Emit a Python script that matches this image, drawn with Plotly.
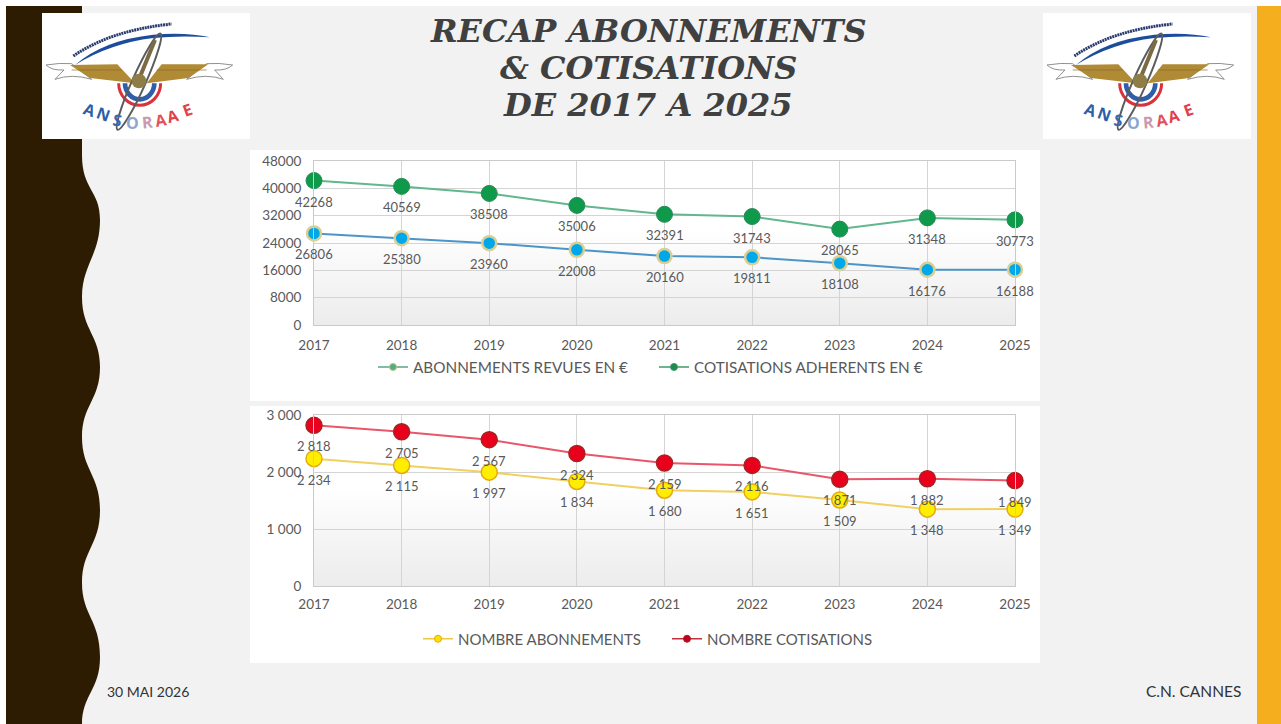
import base64
import plotly.graph_objects as go

# ---------- data ----------
YEARS = ["2017", "2018", "2019", "2020", "2021", "2022", "2023", "2024", "2025"]
COTISATIONS_EUR = [42268, 40569, 38508, 35006, 32391, 31743, 28065, 31348, 30773]
ABONNEMENTS_EUR = [26806, 25380, 23960, 22008, 20160, 19811, 18108, 16176, 16188]
NOMBRE_COTISATIONS = [2818, 2705, 2567, 2324, 2159, 2116, 1871, 1882, 1849]
NOMBRE_ABONNEMENTS = [2234, 2115, 1997, 1834, 1680, 1651, 1509, 1348, 1349]
TITLE_LINES = ["RECAP ABONNEMENTS", "& COTISATIONS", "DE 2017 A 2025"]
LOGO_LETTERS = list("ANSORAAE")

W, H = 1281, 724
FONT = "Lato"
TXT = "#595959"


def px(x):
    return x / W


def py(y):
    return 1 - y / H


# ---------- decoration as one svg backdrop ----------
def logo(tx):
    return f'''<g transform="translate({tx},20) scale(0.3333)" filter="url(#soft)">
<path d="M100,108 Q215,30 395,12" fill="none" stroke="#2b3a70" stroke-width="9" stroke-dasharray="6 2"/>
<path d="M105,135 Q190,60 340,44 Q440,36 510,52 Q420,46 340,54 Q210,70 105,135Z" fill="#1f4e9c"/>
<path d="M18,135 Q60,128 95,131 L155,178 Q95,160 45,178 L72,150 Q35,152 18,135Z" fill="#fff" stroke="#8f8f8f" stroke-width="3"/>
<path d="M578,135 Q536,128 500,131 L440,178 Q500,160 550,178 L524,150 Q560,152 578,135Z" fill="#fff" stroke="#8f8f8f" stroke-width="3"/>
<path d="M236,190 A63,66 0 0 0 362,190" fill="none" stroke="#d9333a" stroke-width="9"/>
<path d="M255,190 A44,48 0 0 0 343,190" fill="none" stroke="#2f5ea8" stroke-width="14"/>
<path d="M90,135 L232,133 L285,190 L150,174Z M505,133 L365,133 L320,190 L445,174Z" fill="#b08a35"/>
<path d="M95,150 L245,150 M500,150 L350,150" stroke="#8a6a25" stroke-width="2"/>
<ellipse cx="297" cy="185" rx="158" ry="20" transform="rotate(-66 297 185)" fill="none" stroke="#5c5c5c" stroke-width="6"/>
<path d="M345,60 L300,170" stroke="#7a6a45" stroke-width="12"/>
<circle cx="297" cy="183" r="22" fill="#8e7d45"/>
</g>'''


wave = ("M6,6 L82,6 L82,155 C82,190 100,190 100,220 C100,255 82,265 82,297 "
        "C82,330 100,335 100,367 C100,400 82,405 82,437 C82,470 100,475 100,510 "
        "C100,545 82,550 82,583 C82,615 100,620 100,657 C100,690 82,695 82,724 L6,724Z")

svg = f'''<svg xmlns="http://www.w3.org/2000/svg" width="{W}" height="{H}" viewBox="0 0 {W} {H}">
<defs>
<filter id="soft"><feGaussianBlur stdDeviation="2"/></filter>
<linearGradient id="g" x1="0" y1="0" x2="0" y2="1">
<stop offset="0" stop-color="#ffffff"/><stop offset=".42" stop-color="#ffffff"/><stop offset="1" stop-color="#ececec"/>
</linearGradient>
</defs>
<rect width="{W}" height="{H}" fill="#ffffff"/>
<rect x="6" y="6" width="{W}" height="{H}" fill="#f2f2f2"/>
<path d="{wave}" fill="#2e1c02"/>
<rect x="1257" y="6" width="24" height="{H}" fill="#f5ae1e"/>
<rect x="42" y="13" width="208" height="126" fill="#ffffff"/>
<rect x="1043" y="13" width="208" height="126" fill="#ffffff"/>
{logo(40)}
{logo(1041)}
<rect x="250" y="150" width="790" height="251" fill="#ffffff"/>
<rect x="250" y="406" width="790" height="257" fill="#ffffff"/>
<rect x="314" y="161" width="701" height="164" fill="url(#g)"/>
<rect x="314" y="415" width="701" height="171" fill="url(#g)"/>
</svg>'''
bg_uri = "data:image/svg+xml;base64," + base64.b64encode(svg.encode()).decode()

# ---------- figure ----------
fig = go.Figure()


def series(name, values, line, fill, edge, edge_w, size, xa, ya):
    fig.add_trace(go.Scatter(
        x=YEARS, y=values, name=name, mode="lines+markers", showlegend=False,
        xaxis=xa, yaxis=ya, cliponaxis=False,
        line=dict(color=line, width=2),
        marker=dict(color=fill, size=size, line=dict(color=edge, width=edge_w)),
    ))


def key(name, line, fill, edge, legend):
    fig.add_trace(go.Scatter(
        x=[None], y=[None], name=name, mode="lines+markers", legend=legend,
        line=dict(color=line, width=1.5),
        marker=dict(color=fill, size=7, line=dict(color=edge, width=1)),
    ))


series("COTISATIONS ADHERENTS EN €", COTISATIONS_EUR, "#62b78c", "#0e9a4a", "#2c8a58", 1, 16, "x", "y")
series("ABONNEMENTS REVUES EN €", ABONNEMENTS_EUR, "#4d94c8", "#00a8ea", "#d9cf95", 2.5, 14, "x", "y")
series("NOMBRE COTISATIONS", NOMBRE_COTISATIONS, "#e9566a", "#e8001c", "#a82222", 1.5, 16, "x2", "y2")
series("NOMBRE ABONNEMENTS", NOMBRE_ABONNEMENTS, "#f0d060", "#ffee00", "#e3ab12", 1.5, 16, "x2", "y2")

key("ABONNEMENTS REVUES EN €", "#5aa688", "#4fae7e", "#c8bf80", "legend")
key("COTISATIONS ADHERENTS EN €", "#3f9a6c", "#1f8a50", "#3f9a6c", "legend")
key("NOMBRE ABONNEMENTS", "#eec64a", "#ffe000", "#e3ab12", "legend2")
key("NOMBRE COTISATIONS", "#c0303c", "#c00020", "#a82222", "legend2")

annotations = []


def data_labels(values, xr, yr, spaced):
    for i, v in enumerate(values):
        t = f"{v:,}".replace(",", " ") if spaced else str(v)
        annotations.append(dict(x=i, y=v, xref=xr, yref=yr, text=t, showarrow=False,
                                yshift=-21, font=dict(family=FONT, size=13, color=TXT)))


data_labels(COTISATIONS_EUR, "x", "y", False)
data_labels(ABONNEMENTS_EUR, "x", "y", False)
data_labels(NOMBRE_COTISATIONS, "x2", "y2", True)
data_labels(NOMBRE_ABONNEMENTS, "x2", "y2", True)

for line_text, yc in zip(TITLE_LINES, [31, 68, 105]):
    annotations.append(dict(x=px(648), y=py(yc), xref="paper", yref="paper", text=f"<b><i>{line_text}</i></b>",
                            showarrow=False, xanchor="center", yanchor="middle",
                            font=dict(family="DejaVu Serif", size=32, color="#404040")))

annotations.append(dict(x=px(105), y=py(691), xref="paper", yref="paper", text="30 MAI 2026", showarrow=False,
                        xanchor="left", yanchor="middle", font=dict(family=FONT, size=14, color="#333333")))
annotations.append(dict(x=px(1243), y=py(691), xref="paper", yref="paper", text="C.N. CANNES", showarrow=False,
                        xanchor="right", yanchor="middle", font=dict(family=FONT, size=15.5, color="#333333")))

letter_pos = [(90, 110, 20), (103, 114, 20), (117, 120, 10), (132, 123, 0),
              (147, 122, -5), (161, 120, -10), (173, 116, -15), (187, 110, -20)]
letter_col = ["#2f5ea8", "#2f5ea8", "#3a66ae", "#8ea6cf", "#c99ab0", "#e2525c", "#e2404a", "#e2404a"]
for off in (0, 1001):
    for ch, (lx, ly, rot), col in zip(LOGO_LETTERS, letter_pos, letter_col):
        annotations.append(dict(x=px(lx + off), y=py(ly), xref="paper", yref="paper", text=f"<b>{ch}</b>",
                                showarrow=False, textangle=rot, xanchor="center", yanchor="middle",
                                font=dict(family="Open Sans", size=16, color=col)))

axis_common = dict(showgrid=True, gridcolor="#d4d4d4", gridwidth=1, showline=True, mirror=True,
                   linecolor="#cacaca", linewidth=1, zeroline=False, ticks="outside",
                   tickcolor="rgba(0,0,0,0)", tickfont=dict(family=FONT, size=13.5, color=TXT))

fig.update_layout(
    width=W, height=H, margin=dict(l=0, r=0, t=0, b=0, autoexpand=False), autosize=False,
    paper_bgcolor="rgba(0,0,0,0)", plot_bgcolor="rgba(0,0,0,0)",
    separators=", ", hovermode=False,
    images=[dict(source=bg_uri, xref="paper", yref="paper", x=0, y=1, sizex=1, sizey=1,
                 sizing="stretch", xanchor="left", yanchor="top", layer="below")],
    annotations=annotations,
    xaxis=dict(domain=[px(314), px(1015)], anchor="y", type="category", range=[0, 8], ticklen=8, **axis_common),
    yaxis=dict(domain=[py(325), py(161)], anchor="x", range=[0, 48000], dtick=8000, tickformat="d", ticklen=9, **axis_common),
    xaxis2=dict(domain=[px(314), px(1015)], anchor="y2", type="category", range=[0, 8], ticklen=6, **axis_common),
    yaxis2=dict(domain=[py(586), py(415)], anchor="x2", range=[0, 3000], dtick=1000, tickformat=",d", ticklen=9, **axis_common),
    legend=dict(orientation="h", x=px(373), y=py(367), xanchor="left", yanchor="middle", bgcolor="rgba(0,0,0,0)",
                traceorder="normal", entrywidth=236, entrywidthmode="pixels",
                font=dict(family=FONT, size=15.3, color=TXT)),
    legend2=dict(orientation="h", x=px(418), y=py(639), xanchor="left", yanchor="middle", bgcolor="rgba(0,0,0,0)",
                 traceorder="normal", entrywidth=204, entrywidthmode="pixels",
                 font=dict(family=FONT, size=15, color=TXT)),
)

fig.write_html("out.html", config=dict(displayModeBar=False),
               post_script="document.body.style.margin='0';document.body.style.overflow='hidden';")
